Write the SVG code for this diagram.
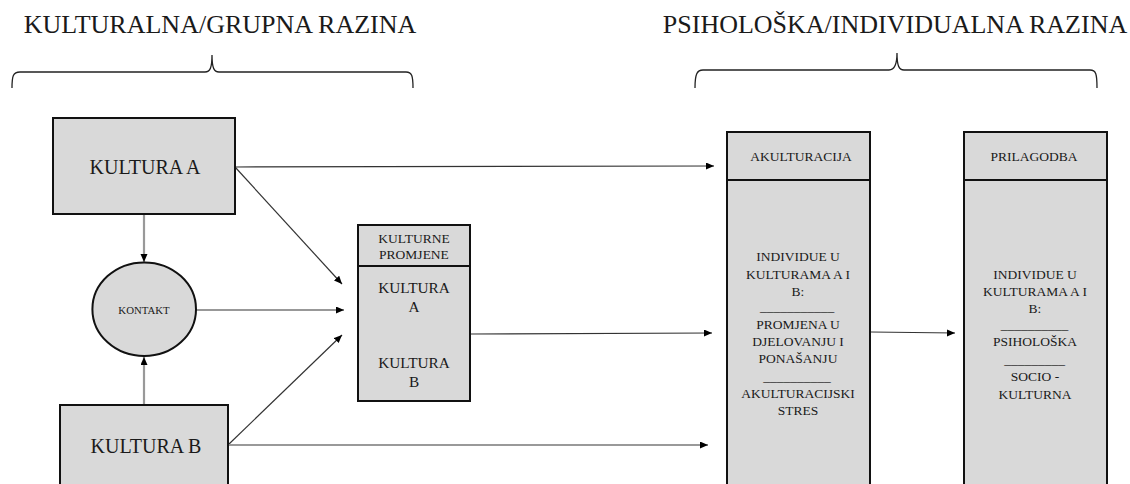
<svg xmlns="http://www.w3.org/2000/svg" width="1130" height="484" viewBox="0 0 1130 484" font-family="'Liberation Serif', 'Times New Roman', serif">
<style>
svg text{font-family:"Liberation Serif","Times New Roman",serif;fill:#1a1a1a;text-anchor:middle;text-transform:none;font-variant:normal}
.box{fill:#d9d9d9;stroke:#111;stroke-width:2}
.brace{fill:none;stroke:#222;stroke-width:1.3}
.dk{stroke:#333;stroke-width:1.2;fill:none}
.gr{stroke:#999;stroke-width:2.2;fill:none}
</style>
<defs>
<marker id="ah" markerUnits="userSpaceOnUse" markerWidth="9" markerHeight="8" refX="8" refY="3.5" orient="auto">
<path d="M0,0 L8,3.5 L0,7 z" fill="#000"/>
</marker>
</defs>
<rect width="1130" height="484" fill="#fff"/>

<g id="headings" font-family="'Liberation Serif', 'Times New Roman', serif" font-size="26" text-anchor="middle">
<text x="220" y="33" font-family="'Liberation Serif', 'Times New Roman', serif" font-size="26">KULTURALNA/GRUPNA RAZINA</text>
<path class="brace" d="M12,88 C12,76 13,72 20,72 L205,72 C210,72 212,68 212,55 C212,68 214,72 219,72 L406,72 C412,72 413,76 413,88"/>
<text x="895" y="33" font-family="'Liberation Serif', 'Times New Roman', serif" font-size="26">PSIHOLOŠKA/INDIVIDUALNA RAZINA</text>
<path class="brace" d="M695,88 C695,74 697,70 703,70 L889,70 C894,70 897,66 897,53 C897,66 899,70 904,70 L1090,70 C1096,70 1097,74 1097,88"/>
</g>

<g id="connectors">
<line class="gr" x1="144" y1="215" x2="144" y2="262" marker-end="url(#ah)"/>
<line class="gr" x1="144" y1="404" x2="144" y2="357" marker-end="url(#ah)"/>
<line class="dk" x1="235" y1="167" x2="714" y2="166" marker-end="url(#ah)"/>
<line class="dk" x1="235" y1="167" x2="342" y2="284" marker-end="url(#ah)"/>
<line class="dk" x1="196" y1="310" x2="344" y2="310" marker-end="url(#ah)"/>
<line class="dk" x1="228" y1="445" x2="342" y2="335" marker-end="url(#ah)"/>
<line class="gr" x1="228" y1="445" x2="708" y2="445" marker-end="url(#ah)"/>
<line class="dk" x1="471" y1="334" x2="712" y2="333" marker-end="url(#ah)"/>
<line class="dk" x1="871" y1="332" x2="955" y2="333" marker-end="url(#ah)"/>
</g>

<g id="kultura-a" font-family="'Liberation Serif', 'Times New Roman', serif" text-anchor="middle">
<rect class="box" x="53" y="118" width="182" height="96"/>
<text x="145" y="174" font-family="'Liberation Serif', 'Times New Roman', serif" font-size="20">KULTURA A</text>
</g>

<g id="kontakt" font-family="'Liberation Serif', 'Times New Roman', serif" text-anchor="middle">
<ellipse class="box" cx="144.2" cy="309.2" rx="51.8" ry="46.8"/>
<text x="144" y="313.5" font-family="'Liberation Serif', 'Times New Roman', serif" font-size="10.8">KONTAKT</text>
</g>

<g id="kultura-b" font-family="'Liberation Serif', 'Times New Roman', serif" text-anchor="middle">
<rect class="box" x="60" y="405" width="168" height="90"/>
<text x="146" y="453" font-family="'Liberation Serif', 'Times New Roman', serif" font-size="20">KULTURA B</text>
</g>

<g id="kulturne-promjene" font-family="'Liberation Serif', 'Times New Roman', serif" text-anchor="middle">
<rect class="box" x="358" y="225" width="112" height="176"/>
<line x1="358" y1="266" x2="470" y2="266" stroke="#111" stroke-width="2"/>
<text x="414" y="243.3" font-family="'Liberation Serif', 'Times New Roman', serif" font-size="13.5">KULTURNE</text>
<text x="414" y="259.3" font-family="'Liberation Serif', 'Times New Roman', serif" font-size="13.5">PROMJENE</text>
<text x="414" y="293.3" font-family="'Liberation Serif', 'Times New Roman', serif" font-size="15.3">KULTURA</text>
<text x="414" y="311.7" font-family="'Liberation Serif', 'Times New Roman', serif" font-size="15.3">A</text>
<text x="414" y="368.3" font-family="'Liberation Serif', 'Times New Roman', serif" font-size="15.3">KULTURA</text>
<text x="414" y="386.7" font-family="'Liberation Serif', 'Times New Roman', serif" font-size="15.3">B</text>
</g>

<g id="akulturacija" font-family="'Liberation Serif', 'Times New Roman', serif" font-size="13.5" text-anchor="middle">
<rect class="box" x="727" y="132" width="143" height="370"/>
<line x1="727" y1="180" x2="870" y2="180" stroke="#111" stroke-width="2"/>
<text x="801" y="160.7" font-family="'Liberation Serif', 'Times New Roman', serif" font-size="13.5">AKULTURACIJA</text>
<text x="798" y="261" font-family="'Liberation Serif', 'Times New Roman', serif" font-size="13.5">INDIVIDUE U</text>
<text x="798" y="278.5" font-family="'Liberation Serif', 'Times New Roman', serif" font-size="13.5">KULTURAMA A I</text>
<text x="798" y="296" font-family="'Liberation Serif', 'Times New Roman', serif" font-size="13.5">B:</text>
<text x="797" y="311" font-family="'Liberation Serif', 'Times New Roman', serif" font-size="13.5">___________</text>
<text x="798" y="328.5" font-family="'Liberation Serif', 'Times New Roman', serif" font-size="13.5">PROMJENA U</text>
<text x="798" y="345.5" font-family="'Liberation Serif', 'Times New Roman', serif" font-size="13.5">DJELOVANJU I</text>
<text x="798" y="362.5" font-family="'Liberation Serif', 'Times New Roman', serif" font-size="13.5">PONAŠANJU</text>
<text x="797" y="380.5" font-family="'Liberation Serif', 'Times New Roman', serif" font-size="13.5">__________</text>
<text x="798" y="397.5" font-family="'Liberation Serif', 'Times New Roman', serif" font-size="13.5">AKULTURACIJSKI</text>
<text x="798" y="414.5" font-family="'Liberation Serif', 'Times New Roman', serif" font-size="13.5">STRES</text>
</g>

<g id="prilagodba" font-family="'Liberation Serif', 'Times New Roman', serif" font-size="13.5" text-anchor="middle">
<rect class="box" x="964" y="132" width="143" height="370"/>
<line x1="964" y1="180" x2="1107" y2="180" stroke="#111" stroke-width="2"/>
<text x="1034" y="160.7" font-family="'Liberation Serif', 'Times New Roman', serif" font-size="13.5">PRILAGODBA</text>
<text x="1035" y="278.5" font-family="'Liberation Serif', 'Times New Roman', serif" font-size="13.5">INDIVIDUE U</text>
<text x="1035" y="295.5" font-family="'Liberation Serif', 'Times New Roman', serif" font-size="13.5">KULTURAMA A I</text>
<text x="1035" y="312.5" font-family="'Liberation Serif', 'Times New Roman', serif" font-size="13.5">B:</text>
<text x="1034.5" y="328.5" font-family="'Liberation Serif', 'Times New Roman', serif" font-size="13.5">__________</text>
<text x="1035" y="346" font-family="'Liberation Serif', 'Times New Roman', serif" font-size="13.5">PSIHOLOŠKA</text>
<text x="1034.5" y="363.5" font-family="'Liberation Serif', 'Times New Roman', serif" font-size="13.5">_________</text>
<text x="1035" y="381" font-family="'Liberation Serif', 'Times New Roman', serif" font-size="13.5">SOCIO -</text>
<text x="1035" y="398.5" font-family="'Liberation Serif', 'Times New Roman', serif" font-size="13.5">KULTURNA</text>
</g>
</svg>
